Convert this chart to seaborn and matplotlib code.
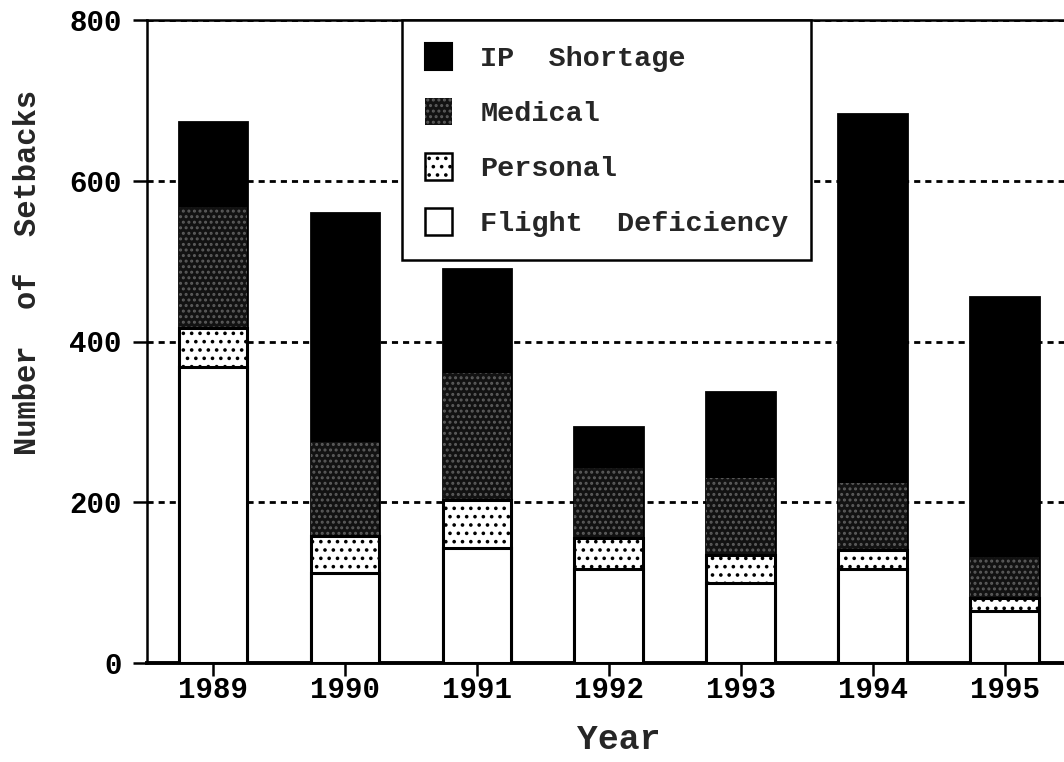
import matplotlib
matplotlib.use("Agg")
import matplotlib.pyplot as plt
from matplotlib.patches import Patch
import seaborn as sns
import pandas as pd

# Setback counts per year, by cause
years = ["1989", "1990", "1991", "1992", "1993", "1994", "1995"]
flight_deficiency = [368, 112, 143, 117, 100, 117, 65]
personal = [49, 46, 60, 38, 34, 24, 16]
medical = [150, 117, 158, 88, 96, 83, 51]
ip_shortage = [106, 285, 129, 51, 107, 459, 323]

legend_labels = ["IP  Shortage", "Medical", "Personal", "Flight  Deficiency"]
y_ticks = [0, 200, 400, 600, 800]

sns.set_theme(style="white")
plt.rcParams["font.family"] = ["Liberation Mono", "DejaVu Sans Mono"]
plt.rcParams["font.weight"] = "bold"
plt.rcParams["hatch.linewidth"] = 1.4

df = pd.DataFrame({
    "year": years,
    "flight": flight_deficiency,
    "personal": personal,
    "medical": medical,
    "ip": ip_shortage,
})
df["c_flight"] = df["flight"]
df["c_personal"] = df["c_flight"] + df["personal"]
df["c_medical"] = df["c_personal"] + df["medical"]
df["c_ip"] = df["c_medical"] + df["ip"]

fig = plt.figure(figsize=(10.64, 7.62), dpi=100)
ax = fig.add_axes([147 / 1064, 1 - 663 / 762, 1 - 147 / 1064, (663 - 20) / 762])

MED_FACE = "#121212"
MED_SPECK = "#5c5c5c"

# Stacked bars: cumulative totals drawn from the top segment down
layers = [
    ("c_ip", dict(facecolor="black", edgecolor="black", linewidth=2.0)),
    ("c_medical", dict(facecolor=MED_FACE, edgecolor=MED_SPECK, hatch="...", linewidth=0)),
    ("c_personal", dict(facecolor="white", edgecolor="black", hatch="..", linewidth=2.2)),
    ("c_flight", dict(facecolor="white", edgecolor="black", linewidth=2.2)),
]
for z, (col, style) in enumerate(layers):
    sns.barplot(data=df, x="year", y=col, order=years, width=0.52,
                ax=ax, zorder=3 + z, **style)

ax.set_xlim(-0.5, 6.45)
ax.set_ylim(0, 800)
ax.set_yticks(y_ticks)
ax.set_yticklabels([str(v) for v in y_ticks])

ax.yaxis.grid(True, color="black", linestyle=(0, (2.2, 1.8)), linewidth=2.0, zorder=0)
ax.xaxis.grid(False)
ax.set_axisbelow(True)

for side in ["left", "top", "bottom"]:
    ax.spines[side].set_visible(True)
    ax.spines[side].set_color("black")
ax.spines["left"].set_linewidth(1.8)
ax.spines["top"].set_linewidth(1.8)
ax.spines["bottom"].set_linewidth(2.8)
ax.spines["right"].set_visible(False)

ax.tick_params(axis="both", which="major", direction="out", width=1.8,
               color="black", labelsize=21, labelcolor="black")
ax.tick_params(axis="y", length=10, pad=8, left=True)
ax.tick_params(axis="x", length=9, pad=0, bottom=True)
for lbl in ax.get_xticklabels() + ax.get_yticklabels():
    lbl.set_fontweight("bold")

ax.set_xlabel("Year", fontsize=25, fontweight="bold")
ax.set_ylabel("Number  of  Setbacks", fontsize=22, fontweight="bold")
ax.xaxis.set_label_coords(0.514, -0.119)
ax.yaxis.set_label_coords(-0.130, 0.607)
ax.xaxis.label.set_va("center")
ax.yaxis.label.set_va("center")

handles = [
    Patch(facecolor="black", edgecolor="black", linewidth=1.5),
    Patch(facecolor=MED_FACE, edgecolor=MED_SPECK, hatch="...", linewidth=0),
    Patch(facecolor="white", edgecolor="black", hatch="..", linewidth=1.8),
    Patch(facecolor="white", edgecolor="black", linewidth=1.8),
]
leg = ax.legend(handles, legend_labels, loc="upper left",
                bbox_to_anchor=(0.278, 1.0), borderaxespad=0,
                prop={"family": ["Liberation Mono"], "weight": "bold", "size": 20.5},
                frameon=True, fancybox=False, framealpha=1, edgecolor="black",
                handlelength=0.95, handleheight=1.1, handletextpad=1.0,
                labelspacing=0.9, borderpad=0.8)
leg.get_frame().set_linewidth(1.8)
leg.set_zorder(10)

fig.savefig("out.png", dpi=100, facecolor="white")
